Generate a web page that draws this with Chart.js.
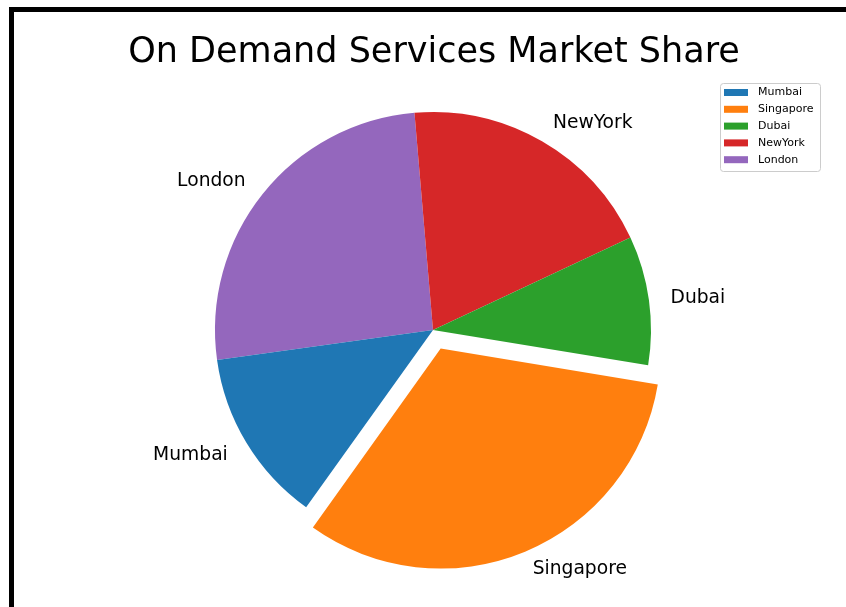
<!DOCTYPE html>
<html>
<head>
<meta charset="utf-8">
<script src="https://cdn.jsdelivr.net/npm/chart.js@4/dist/chart.umd.min.js"></script>
<style>
  html, body { margin: 0; padding: 0; background: #fff; overflow: hidden; }
  canvas { display: block; }
</style>
</head>
<body>
<canvas id="pie-chart" width="846" height="607"></canvas>
<script>
// data, in legend order (matplotlib draws counter-clockwise)
const cities = ['Mumbai', 'Singapore', 'Dubai', 'NewYork', 'London'];
const shares = [50, 125, 37, 75, 100];
const exploded = 'Singapore';

const palette = ['#1f77b4', '#ff7f0e', '#2ca02c', '#d62728', '#9467bd'];
const FONT = '"DejaVu Sans", "Liberation Sans", sans-serif';

// chart.js goes clockwise, so feed it reversed
const revLabels = cities.slice().reverse();
const revShares = shares.slice().reverse();
const revColors = palette.slice().reverse();

const frame = {
  id: 'frame',
  beforeDraw(chart) {
    const ctx = chart.ctx;
    ctx.save();
    ctx.fillStyle = '#fff';
    ctx.fillRect(0, 0, chart.width, chart.height);
    ctx.fillStyle = '#000';
    ctx.fillRect(9, 7, chart.width - 9, 5);
    ctx.fillRect(9, 7, 5, chart.height - 7);
    ctx.restore();
  }
};

const sliceLabels = {
  id: 'sliceLabels',
  afterDatasetsDraw(chart) {
    const ctx = chart.ctx;
    const meta = chart.getDatasetMeta(0);
    ctx.save();
    ctx.font = '18.7px ' + FONT;
    ctx.fillStyle = '#000';
    meta.data.forEach((arc, i) => {
      const p = arc.getProps(['x', 'y', 'startAngle', 'endAngle', 'outerRadius'], true);
      const mid = (p.startAngle + p.endAngle) / 2;
      const shift = (arc.options.offset || 0) / 4;
      const d = shift + p.outerRadius * 1.1;
      const lx = p.x + Math.cos(mid) * d;
      const ly = p.y + Math.sin(mid) * d - 1.5;
      const text = chart.data.labels[i];
      ctx.textAlign = Math.cos(mid) >= 0 ? 'left' : 'right';
      ctx.textBaseline = 'alphabetic';
      const m = ctx.measureText(text);
      ctx.fillText(text, lx, ly + (m.actualBoundingBoxAscent - m.actualBoundingBoxDescent) / 2);
    });
    ctx.restore();
  }
};

const titleAndLegend = {
  id: 'titleAndLegend',
  afterDraw(chart) {
    const ctx = chart.ctx;
    ctx.save();
    // title
    ctx.font = '35px ' + FONT;
    ctx.fillStyle = '#000';
    ctx.textAlign = 'center';
    ctx.textBaseline = 'alphabetic';
    ctx.fillText('On Demand Services Market Share', 434, 62);

    // legend box
    ctx.beginPath();
    ctx.roundRect(720.5, 83.5, 100, 88, 3);
    ctx.fillStyle = 'rgba(255,255,255,0.8)';
    ctx.fill();
    ctx.strokeStyle = '#cccccc';
    ctx.lineWidth = 1;
    ctx.stroke();

    ctx.font = '11px ' + FONT;
    ctx.textAlign = 'left';
    ctx.textBaseline = 'middle';
    cities.forEach((c, i) => {
      const y = 92.5 + i * 16.8;
      ctx.fillStyle = palette[i];
      ctx.fillRect(724, y - 3.5, 24, 7);
      ctx.fillStyle = '#000';
      ctx.fillText(c, 758, y);
    });
    ctx.restore();
  }
};

new Chart(document.getElementById('pie-chart'), {
  type: 'pie',
  data: {
    labels: revLabels,
    datasets: [{
      data: revShares,
      backgroundColor: revColors,
      borderWidth: 0,
      offset: ctx => (revLabels[ctx.dataIndex] === exploded ? 80 : 0)
    }]
  },
  options: {
    responsive: false,
    animation: false,
    events: [],
    rotation: -97.9,
    radius: 218,
    layout: { padding: { left: 20, top: 53, right: 0, bottom: 0 } },
    plugins: {
      legend: { display: false },
      title: { display: false },
      tooltip: { enabled: false }
    }
  },
  plugins: [frame, sliceLabels, titleAndLegend]
});
</script>
</body>
</html>
